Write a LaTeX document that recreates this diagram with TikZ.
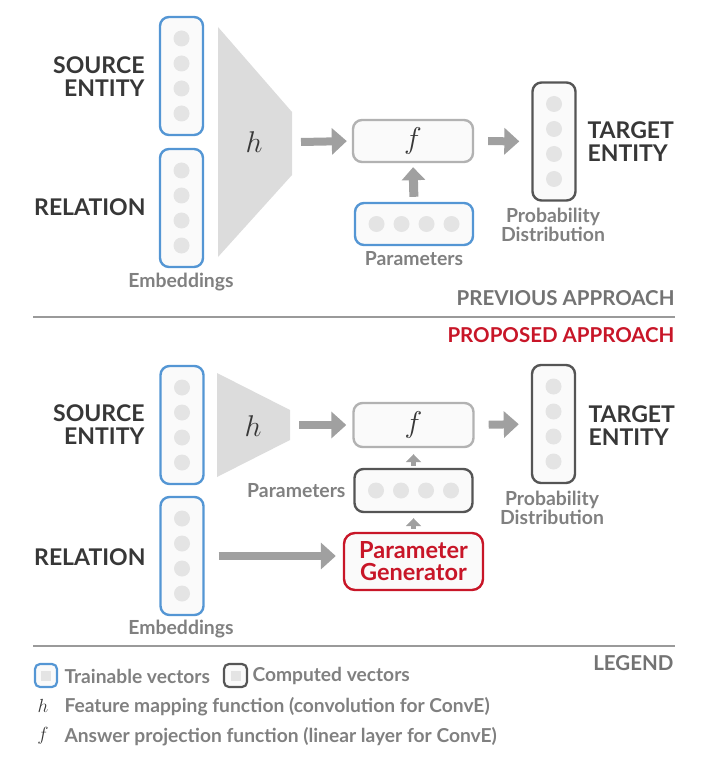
\RequirePackage{fix-cm}
\documentclass[tikz,border=0pt]{standalone}
\usepackage{amsmath}
\usepackage{fontspec}
\setmainfont{Lato}
\usetikzlibrary{arrows.meta,positioning}
\definecolor{trainblue}{RGB}{84,150,212}
\definecolor{compgray}{RGB}{85,85,85}
\definecolor{fgray}{RGB}{178,178,178}
\definecolor{vecfill}{RGB}{250,250,250}
\definecolor{dotgray}{RGB}{228,228,228}
\definecolor{hfill}{RGB}{220,220,220}
\definecolor{arrowgray}{RGB}{160,160,160}
\definecolor{ink}{RGB}{55,55,55}
\definecolor{labelgray}{RGB}{128,128,128}
\definecolor{propred}{RGB}{200,22,40}
\tikzset{
    every node/.style={align=center,},
    vec/.style={draw=trainblue,line width=2.4pt,rectangle,rounded corners=9pt,fill=vecfill,minimum width=43pt,minimum height=118pt,inner sep=0pt,},
    computed/.style={vec,draw=compgray,},
    hvec/.style={vec,minimum width=118pt,minimum height=42pt,},
    dot/.style={circle,fill=dotgray,minimum size=16pt,inner sep=0pt,},
    fat/.style={draw=arrowgray,line width=8pt,-{Triangle[width=26pt,length=15pt]},},
    slim/.style={draw=arrowgray,line width=5pt,-{Triangle[width=15pt,length=8pt]},},
    big/.style={font=\fontsize{23}{23}\selectfont\bfseries,text=ink,},
    small/.style={font=\fontsize{19.4}{19}\selectfont\bfseries,text=labelgray,},
    legend/.style={font=\fontsize{19.2}{20}\selectfont\bfseries,text=labelgray,anchor=west,},
    head/.style={font=\fontsize{20.5}{21}\selectfont\bfseries,text=labelgray!90!black,anchor=east,},
    sym/.style={font=\fontsize{30}{30}\selectfont,text=ink,},
}

\begin{document}
\begin{tikzpicture}[x=1pt,y=-1pt]
    \useasboundingbox (0,0) rectangle (701,759);

    % previous approach
    \node[big,anchor=east,align=right] (src_lbl) at (148,76.5) {SOURCE\\ENTITY};
    \node[big,anchor=east] (rel_lbl) at (149,207) {RELATION};
    \node[vec] (src) at (181.5,76) {};
    \foreach \y in {38.5,63.5,88.5,113.5} \node[dot] at (181.5,\y) {};
    \node[vec] (rel) at (181.5,208) {};
    \foreach \y in {170.5,195.5,220.5,245.5} \node[dot] at (181.5,\y) {};
    \node[small] (emb) at (181,282) {Embeddings};

    \fill[hfill] (218,27) -- (292,112) -- (292,175) -- (218,257) -- cycle;
    \node[sym] (h) at (254,142) {$h$};
    \coordinate (hout) at (301,142);

    \node[hvec,draw=fgray,minimum width=120pt] (f) at (413,141) {};
    \node[sym] at (f) {$f$};
    \node[hvec] (params) at (414,224) {};
    \foreach \x in {376.5,401.5,426.5,451.5} \node[dot] at (\x,224) {};
    \node[small] (params_lbl) at (414,259) {Parameters};

    \node[computed] (target) at (554,141.5) {};
    \foreach \y in {104,129,154,179} \node[dot] at (554,\y) {};
    \node[big,anchor=west,align=left] (target_lbl) at (584,142) {TARGET\\ENTITY};
    \node[small] (prob) at (553,225) {Probability\\Distribution};

    \draw[fat,shorten >=5pt] (hout) -- (f.west);
    \draw[fat,line width=9pt,-{Triangle[width=23pt,length=13pt]},shorten <=5pt,shorten >=4pt] (params.north) -- (f.south);
    \draw[fat,shorten <=14pt,shorten >=12pt] (f.east) -- (target.west);

    \node[head] (prev) at (678,298) {PREVIOUS APPROACH};
    \draw[labelgray!80,line width=1.2pt] (33,317) -- (675,317);
    \node[head,text=propred] (prop) at (678,335) {PROPOSED APPROACH};

    % proposed approach
    \node[big,anchor=east,align=right] (src2_lbl) at (148,425) {SOURCE\\ENTITY};
    \node[big,anchor=east] (rel2_lbl) at (149,557) {RELATION};
    \node[vec] (src2) at (182,425) {};
    \foreach \y in {387.5,412.5,437.5,462.5} \node[dot] at (182,\y) {};
    \node[vec] (rel2) at (182,556) {};
    \foreach \y in {518.5,543.5,568.5,593.5} \node[dot] at (182,\y) {};
    \node[small] (emb2) at (181,629) {Embeddings};

    \fill[hfill] (217,373) -- (290,410) -- (290,440) -- (217,477) -- cycle;
    \node[sym] (h2) at (253,426) {$h$};
    \coordinate (h2out) at (299,425);

    \node[hvec,draw=fgray,minimum width=120pt,minimum height=44pt] (f2) at (413.5,425) {};
    \node[sym] at (f2) {$f$};
    \node[hvec,draw=compgray,minimum height=43pt] (params2) at (413.5,490.5) {};
    \foreach \x in {376,401,426,451} \node[dot] at (\x,490.5) {};
    \node[small,anchor=east] (params2_lbl) at (349,491) {Parameters};
    \node[hvec,draw=propred,minimum width=139pt,minimum height=57pt,rounded corners=11pt,font=\fontsize{23.5}{22}\selectfont\bfseries,text=propred] (gen) at (413.5,561.5) {Parameter\\Generator};

    \node[computed] (target2) at (553.5,424) {};
    \foreach \y in {386.5,411.5,436.5,461.5} \node[dot] at (553.5,\y) {};
    \node[big,anchor=west,align=left] (target2_lbl) at (585,426) {TARGET\\ENTITY};
    \node[small] (prob2) at (552,507.5) {Probability\\Distribution};

    \draw[fat,shorten >=6pt] (h2out) -- (f2.west);
    \draw[slim,shorten <=2pt,shorten >=6pt] (params2.north) -- (f2.south);
    \draw[slim,shorten <=3pt,shorten >=5pt] (gen.north) -- (params2.south);
    \draw[fat,shorten <=14pt,shorten >=7pt] (rel2.east) -- (rel2.east -| gen.west);
    \draw[fat,shorten <=14pt,shorten >=12pt] (f2.east) -- (target2.west);

    % legend
    \draw[labelgray!80,line width=1.2pt] (33,646) -- (675,646);
    \node[head] (leg) at (677,663) {LEGEND};
    \node[draw=trainblue,line width=2.2pt,rounded corners=5pt,fill=vecfill,minimum width=22pt,minimum height=23pt,inner sep=0pt] (train_box) at (46,675.5) {};
    \node[fill=dotgray,minimum size=10pt,inner sep=0pt] at (train_box) {};
    \node[legend] (train_lbl) at (61,676) {Trainable vectors};
    \node[draw=compgray,line width=2.2pt,rounded corners=5pt,fill=vecfill,minimum width=23pt,minimum height=23pt,inner sep=0pt] (comp_box) at (235.5,675.5) {};
    \node[fill=dotgray,minimum size=10pt,inner sep=0pt] at (comp_box) {};
    \node[legend] (comp_lbl) at (249,676) {Computed vectors};
    \node[sym,font=\fontsize{19}{19}\selectfont] (h_key) at (43,706) {$h$};
    \node[legend] (h_lbl) at (61,707) {Feature mapping function (convolution for ConvE)};
    \node[sym,font=\fontsize{19}{19}\selectfont] (f_key) at (43,736) {$f$};
    \node[legend] (f_lbl) at (61,737) {Answer projection function (linear layer for ConvE)};
\end{tikzpicture}
\end{document}
